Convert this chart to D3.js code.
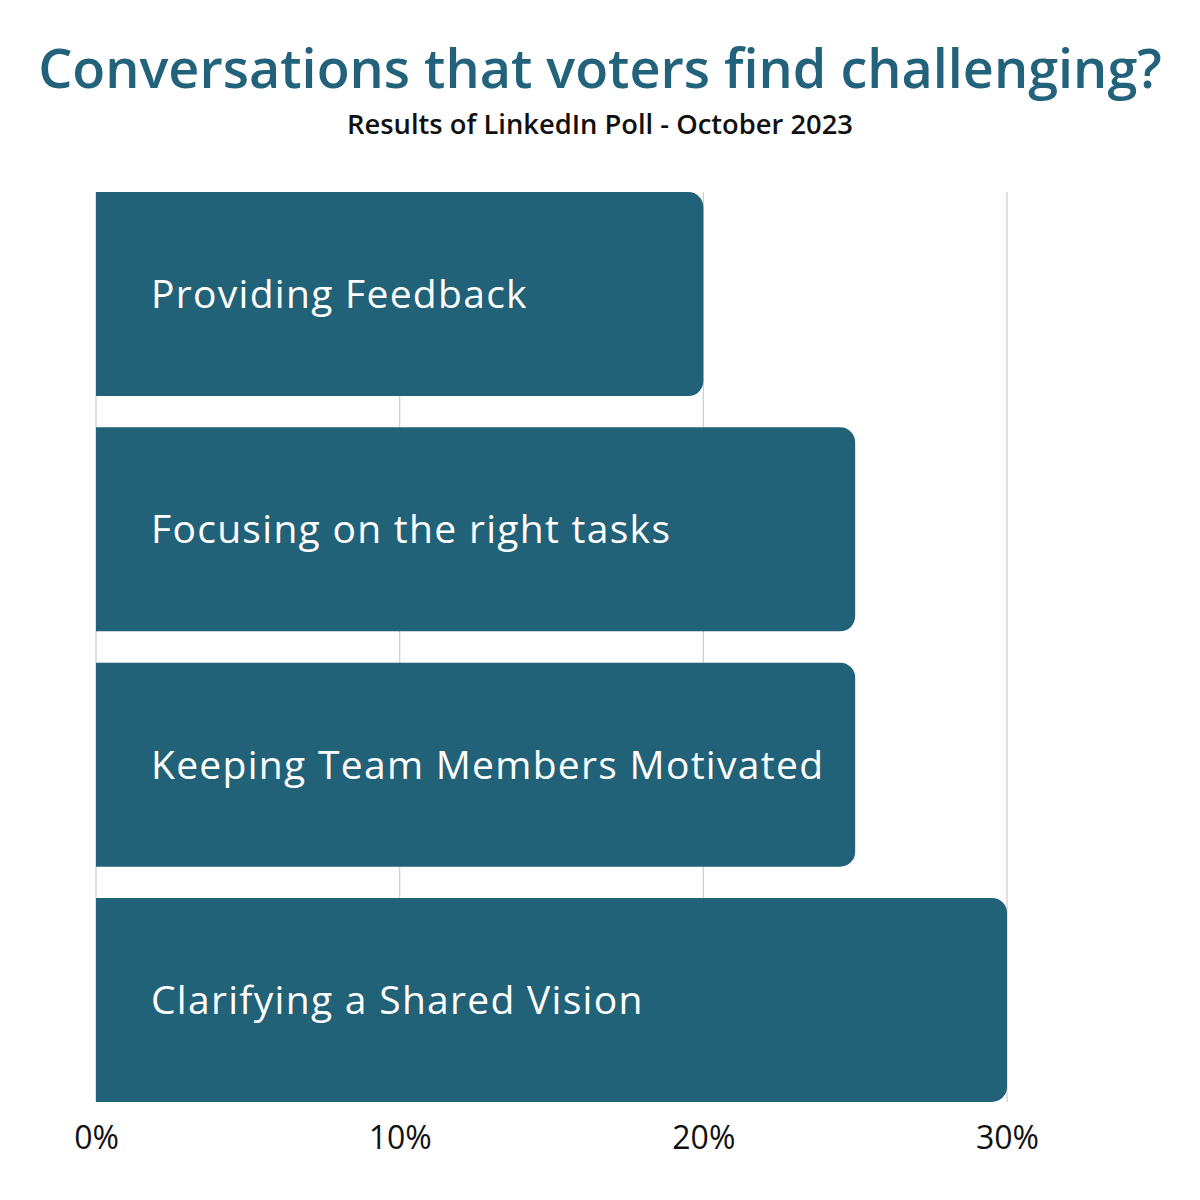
<!DOCTYPE html>
<html lang="en">
<head>
    <meta charset="UTF-8">
    <title>Conversations that voters find challenging?</title>
    <script src="https://d3js.org/d3.v7.min.js"></script>
    <style>
        body {
            margin: 0;
            background: #fff;
            font-family: "Open Sans", Lato, sans-serif;
        }
    </style>
</head>
<body>
    <svg id="chart"></svg>
    <script>
        const categories = [
            "Providing Feedback",
            "Focusing on the right tasks",
            "Keeping Team Members Motivated",
            "Clarifying a Shared Vision"
        ];
        const values = [20, 25, 25, 30];
        const tickValues = [0, 10, 20, 30];

        const width = 1200, height = 1200;
        const barColor = "#226279";
        const font = "'Open Sans', Lato, sans-serif";
        const svg = d3.select("#chart").attr("width", width).attr("height", height)
            .style("font-family", font);

        const x = d3.scaleLinear().domain([0, 30]).range([96, 1007]);
        const y = d3.scaleBand().domain(categories).range([192, 1102]).paddingInner(0.133).paddingOuter(0);

        // fits a text element to a target width by adjusting font size
        function fitWidth(sel, target) {
            const w = sel.node().getComputedTextLength();
            const fs = parseFloat(sel.attr("font-size"));
            sel.attr("font-size", fs * target / w);
        }

        const title = svg.append("text")
            .attr("x", width / 2).attr("y", 88)
            .attr("text-anchor", "middle")
            .attr("font-size", 48).attr("font-weight", 600)
            .attr("fill", "#22627a")
            .text("Conversations that voters find challenging?");
        fitWidth(title, 1124);

        const sub = svg.append("text")
            .attr("x", width / 2).attr("y", 134)
            .attr("text-anchor", "middle")
            .attr("font-size", 22).attr("font-weight", 600)
            .attr("fill", "#111")
            .text("Results of LinkedIn Poll - October 2023");
        fitWidth(sub, 506);

        // gridlines
        svg.append("g")
            .selectAll("line")
            .data(tickValues)
            .join("line")
            .attr("x1", d => x(d)).attr("x2", d => x(d))
            .attr("y1", y.range()[0]).attr("y2", y.range()[1])
            .attr("stroke", "#d0d0d0").attr("stroke-width", 1.3);

        // bars: square left end, rounded right end
        const r = 15;
        svg.append("g")
            .selectAll("path")
            .data(categories)
            .join("path")
            .attr("fill", barColor)
            .attr("d", (d, i) => {
                const x0 = x(0), x1 = x(values[i]), y0 = y(d), h = y.bandwidth();
                return `M${x0},${y0}H${x1 - r}A${r},${r} 0 0 1 ${x1},${y0 + r}` +
                    `V${y0 + h - r}A${r},${r} 0 0 1 ${x1 - r},${y0 + h}H${x0}Z`;
            });

        const labels = svg.append("g")
            .selectAll("text")
            .data(categories)
            .join("text")
            .attr("x", x(0) + 55)
            .attr("y", d => y(d) + y.bandwidth() / 2)
            .attr("dy", "0.36em")
            .attr("font-size", 39)
            .attr("fill", "#fff")
            .text(d => d);

        // common letter spacing so the longest label spans like the reference
        const longest = labels.filter(d => d === "Keeping Team Members Motivated");
        const extra = (672 - longest.node().getComputedTextLength()) / (longest.text().length - 1);
        labels.attr("letter-spacing", Math.max(0, extra));

        // x axis labels
        const axis = svg.append("g")
            .attr("transform", "translate(0,1102)")
            .call(d3.axisBottom(x).tickValues(tickValues).tickFormat(d => d + "%").tickSize(0).tickPadding(24));
        axis.select(".domain").remove();
        axis.selectAll("text")
            .attr("font-size", 32)
            .attr("font-family", font)
            .attr("fill", "#111");
    </script>
</body>
</html>
